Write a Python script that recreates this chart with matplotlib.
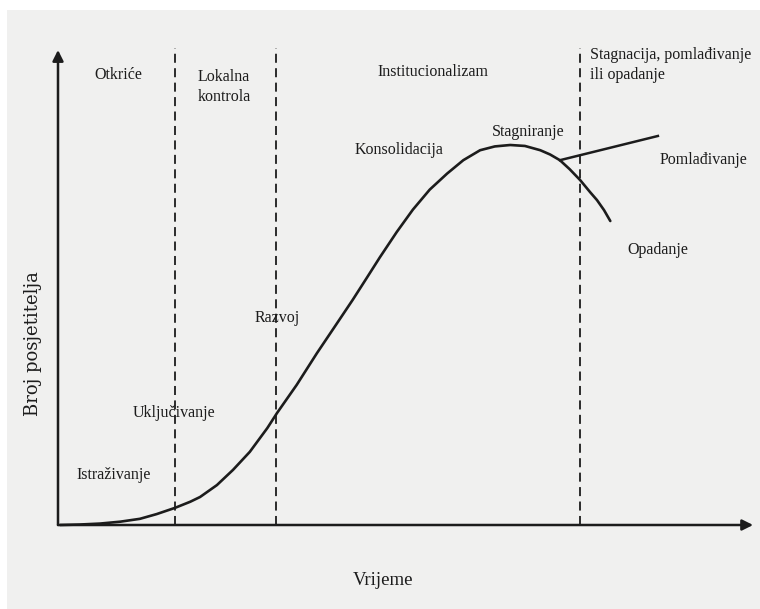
import matplotlib.pyplot as plt
from matplotlib.patches import Rectangle

# vrijeme (x) i broj posjetitelja (y), ocitano sa slike
vrijeme = [0.3, 3.1, 6.0, 8.9, 11.7, 14.1, 16.7, 18.9, 20.3, 22.7, 25.0, 27.4,
           29.9, 31.3, 34.1, 37.0, 39.6, 42.1, 44.1, 46.0, 48.4, 50.7, 53.1,
           55.6, 57.9, 60.3, 62.4, 64.6, 66.7, 68.9, 70.3, 71.7, 73.1, 74.6,
           76.0, 77.0, 78.0, 78.9]
posjetitelji = [0.0, 0.1, 0.3, 0.7, 1.3, 2.3, 3.6, 4.9, 5.9, 8.4, 11.6, 15.4,
                20.4, 23.6, 29.5, 36.2, 41.9, 47.4, 52.0, 56.4, 61.7, 66.4,
                70.6, 74.0, 76.8, 78.9, 79.7, 80.0, 79.8, 78.9, 78.0, 76.8,
                74.9, 72.6, 70.1, 68.4, 66.3, 64.0]

# grana pomladivanja
pomladivanje_x = [71.7, 85.7]
pomladivanje_y = [76.8, 81.9]

# granice faza (isprekidane linije)
granice = [16.7, 31.1, 74.6]

faze = ["Otkriće", "Lokalna\nkontrola", "Institucionalizam",
        "Stagnacija, pomlađivanje\nili opadanje"]

plt.rcParams['font.family'] = ['Liberation Serif', 'DejaVu Serif']

fig = plt.figure(figsize=(7.6, 6.09), dpi=100)
fig.patch.set_facecolor('white')

ax = fig.add_axes([0, 0, 1, 1])
ax.set_facecolor('none')
ax.set_xlim(-58 / 7, (760 - 58) / 7)
ax.set_ylim(-(609 - 525) / 4.75, 525 / 4.75)
ax.axis('off')

# sivkasta pozadina skena
ax.add_patch(Rectangle((7 / 760, 0), 1, 1 - 10 / 609, transform=fig.transFigure,
                       facecolor='#f0f0ef', edgecolor='none', zorder=-10))

boja = '#1c1c1c'

# osi sa strelicama
ax.annotate('', xy=(99.3, 0), xytext=(0, 0),
            arrowprops=dict(arrowstyle='-|>', color=boja, lw=1.8, mutation_scale=16,
                            shrinkA=0, shrinkB=0))
ax.annotate('', xy=(0, 100), xytext=(0, 0),
            arrowprops=dict(arrowstyle='-|>', color=boja, lw=1.8, mutation_scale=16,
                            shrinkA=0, shrinkB=0))

for g in granice:
    ax.plot([g, g], [0, 100.5], color=boja, lw=1.3, linestyle=(0, (5, 3)))

ax.plot(vrijeme, posjetitelji, color=boja, lw=1.9, solid_capstyle='round',
        solid_joinstyle='round')
ax.plot(pomladivanje_x, pomladivanje_y, color=boja, lw=1.8)

fs = 11.5
ax.text(8.6, 94.7, faze[0], ha='center', va='center', fontsize=fs, color=boja)
ax.text(20, 92.2, faze[1], ha='left', va='center', fontsize=fs, color=boja, linespacing=1.3)
ax.text(45.7, 95.4, faze[2], ha='left', va='center', fontsize=fs, color=boja)
ax.text(76, 96.8, faze[3], ha='left', va='center', fontsize=fs, color=boja, linespacing=1.3)

ax.text(42.4, 78.9, "Konsolidacija", ha='left', va='center', fontsize=fs, color=boja)
ax.text(62, 82.7, "Stagniranje", ha='left', va='center', fontsize=fs, color=boja)
ax.text(86, 76.8, "Pomlađivanje", ha='left', va='center', fontsize=fs, color=boja)
ax.text(81.3, 57.9, "Opadanje", ha='left', va='center', fontsize=fs, color=boja)
ax.text(28.1, 43.6, "Razvoj", ha='left', va='center', fontsize=fs, color=boja)
ax.text(10.7, 23.6, "Uključivanje", ha='left', va='center', fontsize=fs, color=boja)
ax.text(2.7, 10.5, "Istraživanje", ha='left', va='center', fontsize=fs, color=boja)

ax.text(46.4, -11.6, "Vrijeme", ha='center', va='center', fontsize=13.5, color=boja)
ax.text(-3.6, 38.3, "Broj posjetitelja", ha='center', va='center', fontsize=13,
        rotation=90, color=boja, family=['DejaVu Serif'])

fig.savefig('out.png', dpi=100)
